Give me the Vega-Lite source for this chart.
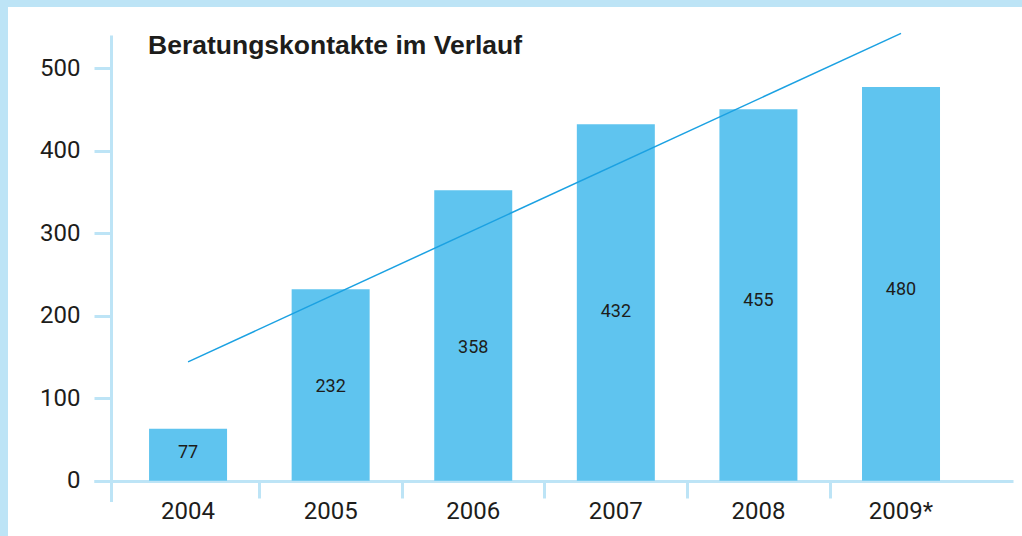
{
  "$schema": "https://vega.github.io/schema/vega-lite/v6.json",
  "width": 1014,
  "height": 529,
  "autosize": {"type": "none"},
  "padding": {"left": 8, "top": 7, "right": 0, "bottom": 0},
  "background": "#bde4f6",
  "config": {"view": {"fill": "white", "stroke": null}},
  "title": {
    "text": "Beratungskontakte im Verlauf",
    "anchor": "start",
    "frame": "group",
    "orient": "top",
    "dx": 140,
    "dy": 73,
    "offset": 0,
    "baseline": "alphabetic",
    "font": "Liberation Sans",
    "fontSize": 26.5,
    "fontWeight": "bold",
    "color": "#1d1d1b"
  },
  "datasets": {
    "bars": [
      {"year": "2004", "value": 63, "label": "77", "labelPos": 34},
      {"year": "2005", "value": 232, "label": "232", "labelPos": 114},
      {"year": "2006", "value": 352, "label": "358", "labelPos": 161},
      {"year": "2007", "value": 432, "label": "432", "labelPos": 204},
      {"year": "2008", "value": 450, "label": "455", "labelPos": 218},
      {"year": "2009*", "value": 477, "label": "480", "labelPos": 231}
    ],
    "trend": [
      {"year": "2004", "trend": 144},
      {"year": "2009*", "trend": 542}
    ]
  },
  "layer": [
    {
      "data": {"name": "bars"},
      "mark": {"type": "bar", "color": "#5fc4ef"},
      "encoding": {
        "x": {
          "field": "year",
          "type": "nominal",
          "sort": null,
          "scale": {"range": [86, 1005], "paddingInner": 0.453, "paddingOuter": 0.449, "align": 0.43},
          "axis": {
            "title": null,
            "orient": "bottom",
            "offset": -55,
            "domainColor": "#bde4f6",
            "domainWidth": 3,
            "tickColor": {"condition": {"test": "datum.value === '2004'", "value": "rgba(0,0,0,0)"}, "value": "#bde4f6"},
            "tickWidth": 3,
            "tickSize": 17,
            "bandPosition": -0.41,
            "tickExtra": false,
            "labelAngle": 0,
            "labelFont": "Roboto",
            "labelFontSize": 24,
            "labelColor": "#1d1d1b",
            "labelPadding": 1
          }
        },
        "y": {
          "field": "value",
          "type": "quantitative",
          "scale": {"domain": [-25.3, 540], "range": [494.6, 28], "nice": false, "zero": false},
          "axis": {
            "title": null,
            "offset": -103,
            "values": [0, 100, 200, 300, 400, 500],
            "grid": false,
            "domainColor": "#bde4f6",
            "domainWidth": 3,
            "tickColor": "#bde4f6",
            "tickWidth": 3,
            "tickSize": 17,
            "labelFont": "Roboto",
            "labelFontSize": 24,
            "labelColor": "#1d1d1b",
            "labelPadding": 14
          }
        }
      }
    },
    {
      "data": {"name": "bars"},
      "mark": {"type": "text", "font": "Roboto", "fontSize": 18, "color": "#1d1d1b", "baseline": "middle", "align": "center"},
      "encoding": {
        "x": {"field": "year", "type": "nominal", "sort": null},
        "y": {"field": "labelPos", "type": "quantitative"},
        "text": {"field": "label"}
      }
    },
    {
      "data": {"name": "trend"},
      "mark": {"type": "line", "color": "#1ba1e2", "strokeWidth": 1.5},
      "encoding": {
        "x": {"field": "year", "type": "nominal", "sort": null},
        "y": {"field": "trend", "type": "quantitative"}
      }
    }
  ]
}
